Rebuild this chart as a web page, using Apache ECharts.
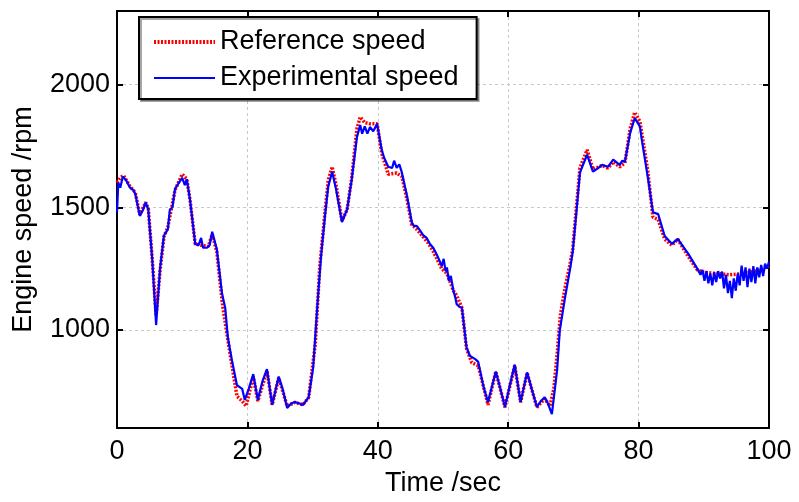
<!DOCTYPE html>
<html>
<head>
<meta charset="utf-8">
<script src="https://cdn.jsdelivr.net/npm/echarts@6/dist/echarts.min.js"></script>
<style>
  html, body { margin: 0; padding: 0; background: #fff; }
  #engineSpeedChart { width: 799px; height: 502px; }
</style>
</head>
<body>
<div id="engineSpeedChart"></div>
<script>
// values (time in sec, speed in rpm)
var refTime = [0, 0.5, 1, 2, 2.8, 3.5, 4.4, 4.8, 5.4, 6.0, 6.6, 7.2, 7.8, 8.9, 10, 10.7, 11.2, 12, 13, 14, 14.6, 15.3, 16.2, 17, 17.6, 18.4, 19.2, 19.8, 20.9, 21.6, 23, 23.8, 24.8, 26.1, 27.3, 28.5, 29.4, 30.4, 31.1, 31.9, 32.4, 33, 33.6, 34.5, 35.3, 36, 36.8, 37.3, 38, 38.8, 39.9, 40.6, 41.6, 42.9, 43.7, 44.5, 45.2, 46, 47.7, 48.5, 49.8, 50.6, 51.6, 52.1, 52.9, 53.6, 54.4, 55.4, 56.9, 58.1, 59.5, 61, 61.9, 62.9, 64.4, 65.6, 66.4, 67, 67.5, 68, 68.7, 69.5, 69.9, 70.5, 71, 72.1, 73, 74.4, 75.3, 76.1, 77.1, 77.9, 78.7, 79.4, 80.2, 80.5, 81.4, 82.2, 83, 84, 85.1, 86, 87.6, 89, 90, 92, 94, 96, 98, 100];
var refSpeed = [1600, 1620, 1630, 1585, 1560, 1470, 1520, 1495, 1290, 1060, 1240, 1380, 1420, 1570, 1635, 1615, 1530, 1350, 1345, 1340, 1390, 1320, 1100, 960, 860, 730, 710, 690, 810, 710, 835, 695, 805, 690, 705, 695, 725, 940, 1260, 1480, 1610, 1665, 1590, 1445, 1490, 1620, 1820, 1868, 1845, 1840, 1840, 1720, 1635, 1640, 1625, 1530, 1430, 1410, 1355, 1320, 1250, 1230, 1160, 1140, 1090, 925, 867, 855, 695, 830, 685, 855, 705, 825, 685, 720, 690, 760, 900, 1060, 1170, 1270, 1330, 1510, 1660, 1734, 1655, 1670, 1660, 1685, 1665, 1680, 1820, 1887, 1850, 1800, 1650, 1460, 1450, 1370, 1345, 1370, 1300, 1245, 1235, 1230, 1225, 1230, 1240, 1260];

var expTime = [0, 0.2, 0.5, 0.9, 1.4, 2, 2.5, 2.8, 3.5, 4.0, 4.4, 4.8, 5.4, 6.0, 6.6, 7.2, 7.8, 8.1, 8.5, 8.9, 9.5, 10, 10.4, 10.7, 11.2, 12, 12.5, 12.9, 13.2, 13.8, 14.2, 14.6, 15.3, 16.1, 16.6, 17, 17.6, 18.4, 19.2, 19.6, 20.2, 20.9, 21.6, 22.3, 23, 23.8, 24.8, 25.4, 26.1, 26.7, 27.3, 28, 28.5, 29.4, 30.1, 30.7, 31.3, 31.9, 32.4, 33, 33.6, 34.5, 35.3, 36, 36.8, 37.3, 37.6, 38, 38.4, 38.8, 39.3, 39.9, 40.6, 41, 41.6, 42.2, 42.5, 42.9, 43.3, 43.7, 44.5, 45.2, 45.5, 46, 46.5, 47, 47.5, 48, 48.5, 49, 49.5, 49.8, 50.1, 50.4, 50.6, 50.9, 51.2, 51.6, 51.9, 52.1, 52.5, 52.9, 53.3, 53.6, 54.1, 54.4, 55, 55.4, 56.2, 56.9, 58.1, 58.8, 59.5, 60.3, 61, 61.9, 62.9, 63.6, 64.4, 65, 65.6, 66.1, 66.7, 67.5, 67.9, 68.7, 69.5, 69.9, 70.5, 71, 72.1, 73, 73.8, 74.4, 75.3, 76.1, 77.1, 77.5, 77.9, 78.7, 79.4, 80.2, 80.5, 81.4, 82.2, 83, 83.3, 84, 85.1, 86, 87.6, 89, 89.5, 89.8, 90.1, 90.4, 90.7, 91, 91.3, 91.6, 91.9, 92.2, 92.5, 92.8, 93.1, 93.4, 93.7, 94, 94.3, 94.6, 94.9, 95.2, 95.5, 95.8, 96.1, 96.4, 96.7, 97, 97.3, 97.6, 97.9, 98.2, 98.5, 98.8, 99.1, 99.4, 99.7, 100];
var expSpeed = [1480, 1600, 1580, 1625, 1610, 1580, 1570, 1555, 1465, 1490, 1520, 1490, 1290, 1020, 1250, 1385, 1410, 1490, 1500, 1575, 1600, 1620, 1590, 1615, 1530, 1350, 1345, 1375, 1335, 1335, 1345, 1400, 1330, 1150, 1090, 970, 880, 775, 760, 715, 760, 820, 715, 790, 840, 695, 810, 760, 682, 700, 706, 700, 694, 726, 850, 1089, 1302, 1464, 1585, 1645, 1573, 1440, 1492, 1613, 1786, 1835, 1800, 1830, 1800, 1827, 1810, 1840, 1734, 1700, 1665, 1660, 1690, 1661, 1675, 1641, 1544, 1440, 1425, 1423, 1405, 1385, 1375, 1350, 1335, 1310, 1280, 1260, 1290, 1240, 1255, 1200, 1220, 1160, 1130, 1105, 1095, 1090, 1000, 930, 895, 887, 880, 870, 770, 706, 831, 760, 686, 780, 859, 706, 827, 760, 686, 710, 726, 700, 657, 835, 996, 1129, 1250, 1319, 1492, 1641, 1714, 1645, 1660, 1673, 1665, 1694, 1673, 1690, 1686, 1802, 1863, 1830, 1774, 1625, 1480, 1472, 1470, 1383, 1351, 1371, 1311, 1250, 1225, 1245, 1200, 1240, 1190, 1230, 1182, 1235, 1195, 1240, 1210, 1238, 1170, 1225, 1150, 1200, 1130, 1210, 1160, 1230, 1182, 1262, 1200, 1255, 1175, 1250, 1195, 1260, 1190, 1255, 1215, 1265, 1220, 1270, 1250, 1278];

var yTicks = [1000, 1500, 2000];

function pairs(xs, ys) {
    return xs.map(function (x, i) { return [x, ys[i]]; });
}

var chart = echarts.init(document.getElementById('engineSpeedChart'));
var fontFam = '"Liberation Sans", Arial, sans-serif';
var tickStyle = { show: true, inside: true, length: 6, lineStyle: { color: '#000', width: 2 } };
var gridLine = { show: true, lineStyle: { color: '#c8c8c8', type: [3, 3], width: 1 } };
var plain = function (v) { return String(v); };

chart.setOption({
    animation: false,
    backgroundColor: '#fff',
    grid: { left: 117, right: 30, top: 11, bottom: 72 },
    legend: {
        show: true,
        orient: 'vertical',
        left: 139, top: 17,
        padding: [8, 18, 4, 13],
        itemGap: 2,
        itemWidth: 61, itemHeight: 14,
        itemTextGap: 7,
        itemStyle: { opacity: 0 },
        borderColor: '#000', borderWidth: 2,
        backgroundColor: '#fff',
        shadowColor: 'rgba(0,0,0,0.35)', shadowOffsetX: 2, shadowOffsetY: 2, shadowBlur: 0,
        textStyle: { fontFamily: fontFam, fontSize: 27, lineHeight: 34, color: '#000' },
        z: 10,
        data: [
            { name: 'Reference speed', lineStyle: { color: '#ff0000', width: 4, type: [2, 1.5] } },
            { name: 'Experimental speed', lineStyle: { color: '#0000ff', width: 2.2, type: 'solid' } }
        ]
    },
    xAxis: [{
        type: 'value', min: 0, max: 100, interval: 20,
        name: 'Time /sec', nameLocation: 'middle', nameGap: 39,
        nameTextStyle: { fontFamily: fontFam, fontSize: 27, color: '#000' },
        axisLine: { show: true, onZero: false, lineStyle: { color: '#000', width: 2 } },
        axisTick: tickStyle,
        axisLabel: { fontFamily: fontFam, fontSize: 27, color: '#000', margin: 10, formatter: plain },
        splitLine: gridLine
    }, {
        type: 'value', min: 0, max: 100, interval: 20, position: 'top',
        axisLine: { show: true, onZero: false, lineStyle: { color: '#000', width: 2 } },
        axisTick: tickStyle, axisLabel: { show: false }, splitLine: { show: false }
    }],
    yAxis: [{
        type: 'value', min: 600, max: 2300,
        name: 'Engine speed /rpm', nameLocation: 'middle', nameGap: 80,
        nameTextStyle: { fontFamily: fontFam, fontSize: 27, color: '#000' },
        axisLine: { show: true, onZero: false, lineStyle: { color: '#000', width: 2 } },
        axisTick: Object.assign({ customValues: yTicks }, tickStyle),
        axisLabel: { customValues: yTicks, fontFamily: fontFam, fontSize: 27, color: '#000', margin: 7, formatter: plain },
        splitLine: gridLine
    }, {
        type: 'value', min: 600, max: 2300, position: 'right',
        axisLine: { show: true, onZero: false, lineStyle: { color: '#000', width: 2 } },
        axisTick: Object.assign({ customValues: yTicks }, tickStyle),
        axisLabel: { show: false, customValues: yTicks }, splitLine: { show: false }
    }],
    series: [{
        name: 'Reference speed',
        type: 'line',
        data: pairs(refTime, refSpeed),
        symbol: 'none',
        color: '#ff0000',
        lineStyle: { color: '#ff0000', width: 3.5, type: [2, 1.5] },
        z: 2
    }, {
        name: 'Experimental speed',
        type: 'line',
        data: pairs(expTime, expSpeed),
        symbol: 'none',
        color: '#0000ff',
        lineStyle: { color: '#0000ff', width: 2.2 },
        z: 3
    }]
});
</script>
</body>
</html>
